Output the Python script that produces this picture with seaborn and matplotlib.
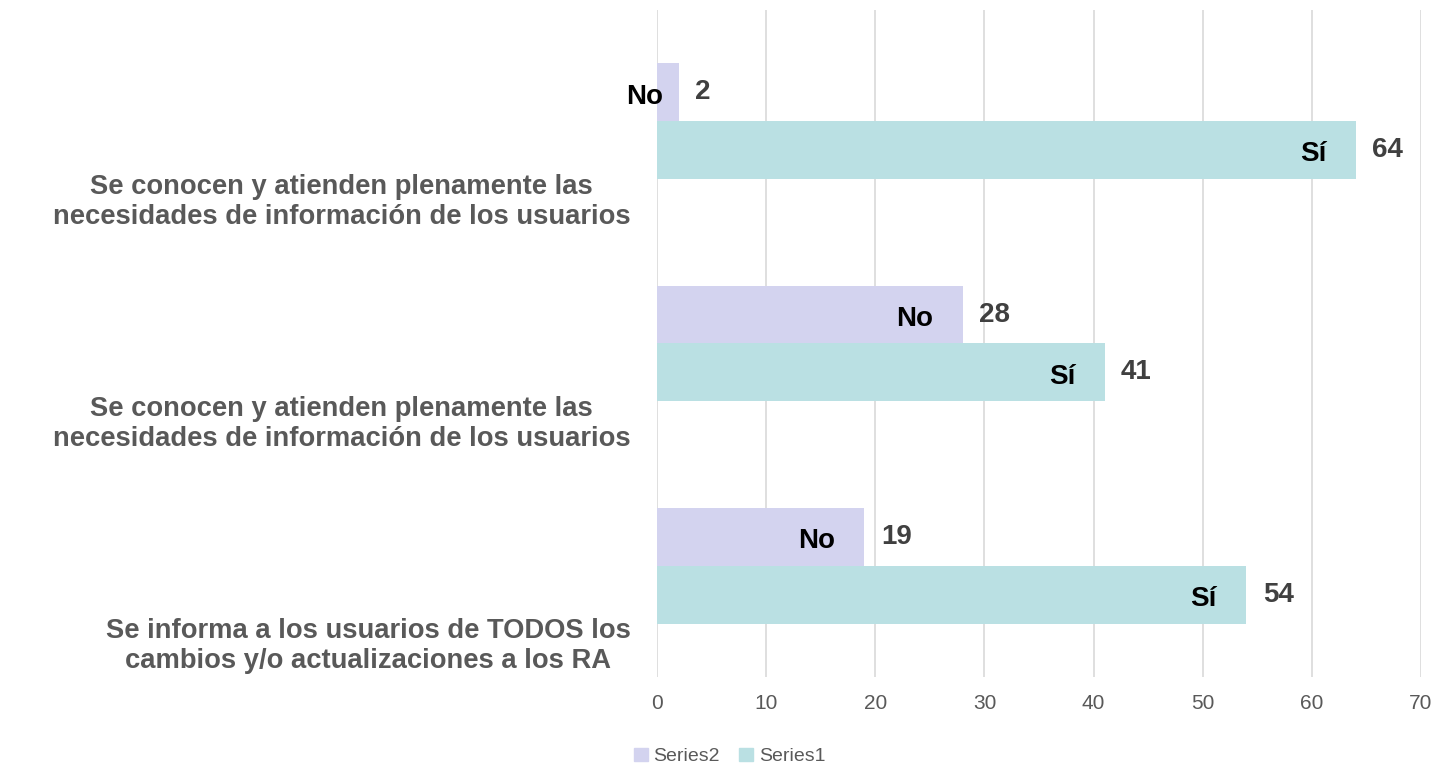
import matplotlib
matplotlib.use("Agg")
import matplotlib.pyplot as plt
import pandas as pd
import seaborn as sns

# data
items = [
    "Se conocen y atienden plenamente las\nnecesidades de información de los usuarios",
    "Se conocen y atienden plenamente las\nnecesidades de información de los usuarios",
    "Se informa a los usuarios de TODOS los\ncambios y/o actualizaciones a los RA",
]
series2_no = [2, 28, 19]
series1_si = [64, 41, 54]
series_names = ["Series2", "Series1"]
inner_labels = ["No", "Sí"]
xticks = [0, 10, 20, 30, 40, 50, 60, 70]

colors = {"Series2": "#D3D3EF", "Series1": "#BAE0E3"}

# long table, ids keep the two identical labels apart
ids = [str(i) for i in range(len(items))]
df = pd.DataFrame({
    "item": ids * 2,
    "value": series2_no + series1_si,
    "series": ["Series2"] * len(ids) + ["Series1"] * len(ids),
})

sns.set_style("white")
plt.rcParams["font.family"] = ["Liberation Sans", "DejaVu Sans"]

fig = plt.figure(figsize=(14.45, 7.66), dpi=100)
ax = fig.add_axes([0.4547, 0.1162, 0.5287, 0.8708])

sns.barplot(data=df, y="item", x="value", hue="series", order=ids,
            hue_order=series_names, palette=colors, width=0.52,
            saturation=1, linewidth=0, orient="h", ax=ax, legend=True)

ax.set_xlim(0, 70)
ax.set_ylim(2.5, -0.5)
ax.set_xticks(xticks)
ax.set_xticklabels([str(t) for t in xticks], fontsize=15, color="#595959")
ax.grid(axis="x", color="#D9D9D9", linewidth=1.2)
ax.set_axisbelow(True)
for s in ax.spines.values():
    s.set_visible(False)
ax.tick_params(axis="both", length=0)
ax.tick_params(axis="x", pad=12)

# category labels sit below each bar pair
ax.set_yticks([i + 0.34 for i in range(len(items))])
ax.set_yticklabels(items, fontsize=19.7, fontweight="bold", color="#595959")
for t in ax.get_yticklabels():
    t.set_multialignment("center")
    t.set_linespacing(1.2)
ax.tick_params(axis="y", pad=19)
ax.set_xlabel("")
ax.set_ylabel("")

# data labels
off = 0.13
for i in range(len(items)):
    for vals, lab, dy in [(series2_no, inner_labels[0], -off), (series1_si, inner_labels[1], off)]:
        v = vals[i]
        ax.text(v + 1.5, i + dy, str(v), ha="left", va="center",
                fontsize=20, fontweight="bold", color="#404040")
        ax.text(max(v - 2.7, 0.6), i + dy + 0.02, lab, ha="right", va="center",
                fontsize=20, fontweight="bold", color="black")

ax.get_legend().remove()
handles = [plt.Rectangle((0, 0), 1, 1, color=colors[s]) for s in series_names]
fig.legend(handles, series_names, loc="lower center", bbox_to_anchor=(0.505, -0.022),
           ncol=2, frameon=False, fontsize=14, handlelength=0.7, handleheight=0.7,
           handletextpad=0.3, columnspacing=1.0, labelcolor="#595959")

fig.savefig("out.png", dpi=100)
